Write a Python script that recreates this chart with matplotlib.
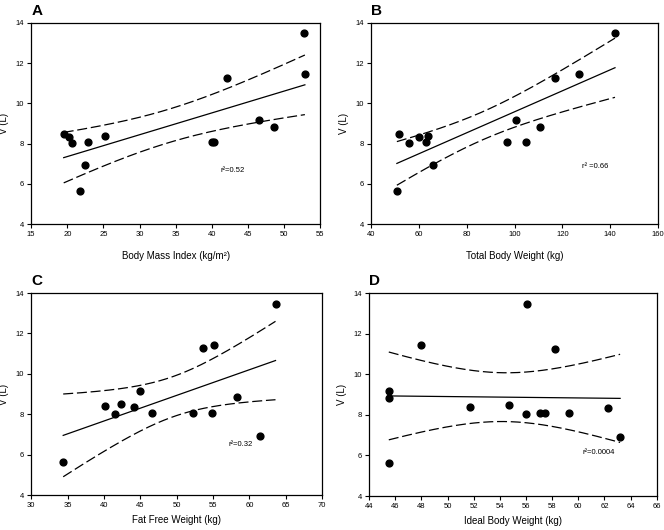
import numpy as np
import matplotlib
matplotlib.use("Agg")
import matplotlib.pyplot as plt

plt.rcParams['font.family'] = ['Liberation Sans', 'DejaVu Sans']

# one entry per subject, same order in every list
volume = [5.65, 6.93, 8.02, 8.07, 8.07, 8.07, 8.34, 8.39, 8.49, 8.85, 9.17, 11.26, 11.44, 13.48]   # V (L)
bmi = [21.7, 22.4, 20.65, 22.9, 40.05, 40.3, 20.3, 25.2, 19.5, 48.65, 46.5, 42.1, 52.9, 52.8]
tbw = [50.75, 65.8, 55.8, 62.8, 96.8, 104.8, 59.8, 63.9, 51.7, 110.8, 100.75, 116.8, 127.0, 142.0]
ffw = [34.4, 61.5, 41.5, 46.6, 52.2, 54.8, 44.2, 40.2, 42.3, 58.3, 45.0, 53.65, 55.1, 63.6]
ibw = [45.5, 63.2, 56.0, 57.1, 57.45, 59.3, 62.3, 51.7, 54.7, 45.5, 45.5, 58.2, 48.0, 56.1]

panel_letters = ['A', 'B', 'C', 'D']
x_labels = ['Body Mass Index (kg/m\u00b2)', 'Total Body Weight (kg)',
            'Fat Free Weight (kg)', 'Ideal Body Weight (kg)']
r2_labels = ['r\u00b2=0.52', 'r\u00b2 =0.66', 'r\u00b2=0.32', 'r\u00b2=0.0004']
r2_pos = [(41.2, 6.65), (128.3, 6.86), (57.2, 6.48), (60.3, 6.13)]
x_ticks = [np.arange(15, 56, 5), np.arange(40, 161, 20),
           np.arange(30, 71, 5), np.arange(44, 67, 2)]

# axes boxes in figure fractions [left, bottom, width, height]
boxes = [[0.047, 0.577, 0.435, 0.380],
         [0.559, 0.577, 0.432, 0.380],
         [0.047, 0.066, 0.438, 0.381],
         [0.556, 0.064, 0.433, 0.383]]
xlabel_pads = [9, 9, 4, 4]

T_975 = 2.179   # t(0.975, df=12)


def fit_with_band(x, y):
    x = np.asarray(x)
    y = np.asarray(y)
    n = len(x)
    b, a = np.polyfit(x, y, 1)
    resid = y - (a + b * x)
    s = np.sqrt(np.sum(resid ** 2) / (n - 2))
    sxx = np.sum((x - x.mean()) ** 2)
    xs = np.linspace(x.min(), x.max(), 200)
    ys = a + b * xs
    half = T_975 * s * np.sqrt(1.0 / n + (xs - x.mean()) ** 2 / sxx)
    return xs, ys, ys - half, ys + half


fig = plt.figure(figsize=(6.64, 5.30), dpi=100)

for i, xdata in enumerate([bmi, tbw, ffw, ibw]):
    ax = fig.add_axes(boxes[i])
    xs, ys, lo, hi = fit_with_band(xdata, volume)
    ax.plot(xs, ys, color='black', lw=0.9)
    for band in (lo, hi):
        ax.plot(xs, band, color='black', lw=0.9, dashes=(8, 3))
    ax.scatter(xdata, volume, s=24, color='black', zorder=3)

    ax.set_xlim(x_ticks[i][0], x_ticks[i][-1])
    ax.set_ylim(4, 14)
    ax.set_xticks(x_ticks[i])
    ax.set_yticks(np.arange(4, 15, 2))
    ax.tick_params(direction='out', length=3, width=0.8, labelsize=5.5, pad=2,
                   top=False, right=False)
    for sp in ax.spines.values():
        sp.set_linewidth(0.9)
    ax.set_xlabel(x_labels[i], fontsize=7, labelpad=xlabel_pads[i])
    ax.set_ylabel('V (L)', fontsize=7, labelpad=5)
    ax.text(r2_pos[i][0], r2_pos[i][1], r2_labels[i], fontsize=5.5, va='center')
    ax.text(0.0, 1.025, panel_letters[i], transform=ax.transAxes,
            fontsize=11, fontweight='bold', va='bottom', ha='left')

fig.savefig('out.png', dpi=100)
